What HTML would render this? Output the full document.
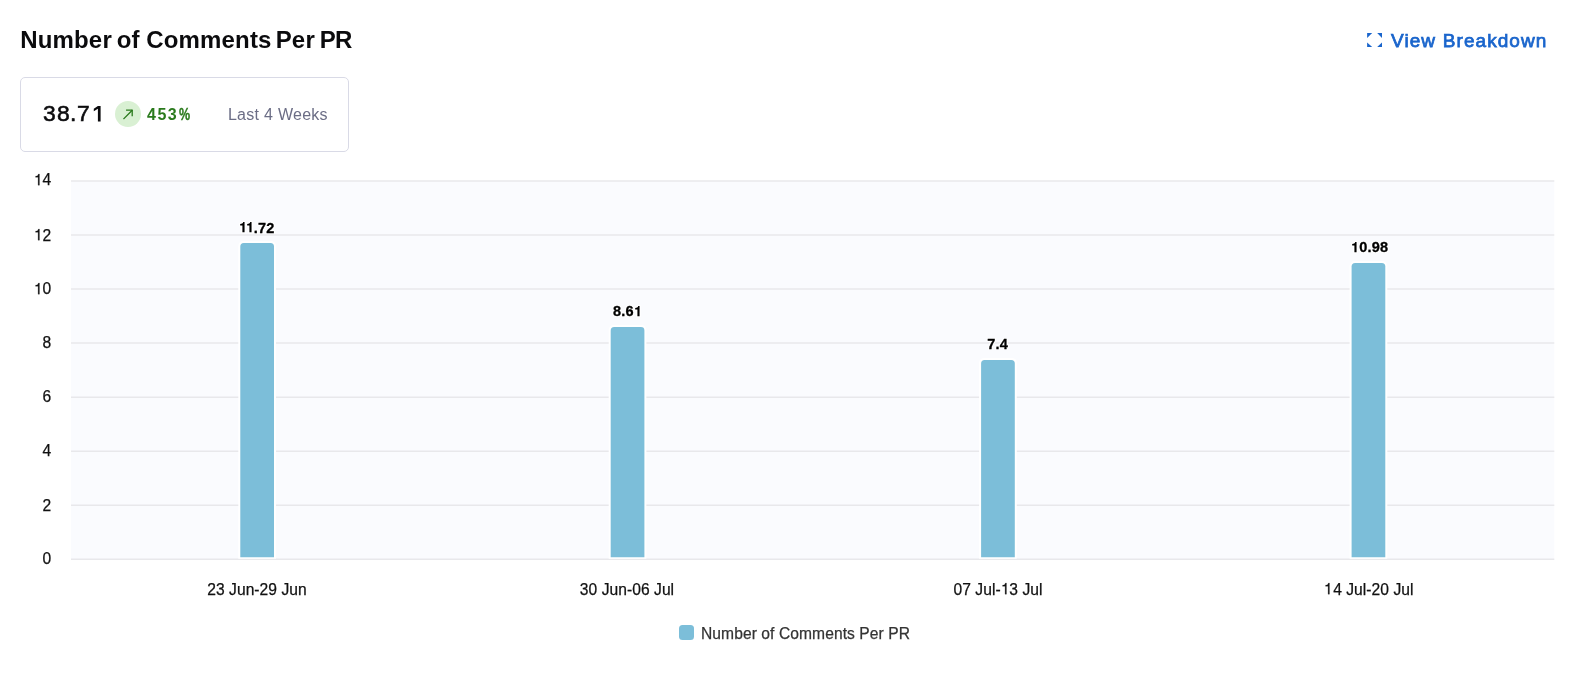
<!DOCTYPE html>
<html>
<head>
<meta charset="utf-8">
<title>Number of Comments Per PR</title>
<style>
  html, body { margin: 0; padding: 0; }
  body {
    width: 1587px; height: 684px; position: relative; overflow: hidden;
    background: #ffffff; transform: translateZ(0);
    font-family: "Liberation Sans", sans-serif;
    color: #0b0b0d;
  }
  .abs { position: absolute; white-space: nowrap; line-height: 1; }
  #title { left: 20.2px; top: 27.6px; font-size: 24px; font-weight: 700; color: #0b0b0d; letter-spacing: 0.17px; }
  #vb { left: 1391px; top: 30.5px; font-size: 19px; font-weight: 400; color: #1a65cc; letter-spacing: 1.05px; word-spacing: 0.5px; -webkit-text-stroke: 0.75px #1a65cc; }
  #vbicon { left: 1367px; top: 33px; width: 15px; height: 14px; }
  #card { left: 20px; top: 77px; width: 327px; height: 73px; border: 1px solid #d9dae6; border-radius: 5px; background: #fff; }
  #big { left: -0.3px; top: 102.7px; font-size: 22px; font-weight: 400; letter-spacing: 0; color: #0b0b0d; -webkit-text-stroke: 0.55px #0b0b0d; }
  #big .g { transform: scaleX(1.04); transform-origin: 0 0; }
  #circ { left: 115.3px; top: 101px; width: 26px; height: 26px; border-radius: 50%; background: #d9f0d3; }
  #pct { left: 147px; top: 107px; font-size: 16px; font-weight: 700; color: #2a7a1c; letter-spacing: 0; }
  #last { left: 228px; top: 107px; font-size: 16px; color: #6b6d85; letter-spacing: 0.2px; word-spacing: 0.3px; }
  .ylab { font-size: 15.6px; color: #111; -webkit-text-stroke: 0.25px #111; text-align: right; width: 40px; left: 11.3px; }
  .xlab { font-size: 15.6px; color: #111; -webkit-text-stroke: 0.25px #111; letter-spacing: 0.05px; text-align: center; width: 200px; }
  .dl { font-size: 14.5px; letter-spacing: 0.2px; font-weight: 700; color: #000; text-align: center; width: 100px;
        -webkit-text-stroke: 0.3px #000; text-shadow: 1px 0 0 #fff, -1px 0 0 #fff, 0 1px 0 #fff, 0 -1px 0 #fff, 1px 1px 0 #fff, -1px -1px 0 #fff, 1px -1px 0 #fff, -1px 1px 0 #fff; }
  .o1 { display: inline-block; width: 0.556em; height: 0.716em; vertical-align: baseline; fill: currentColor; stroke: currentColor; stroke-width: 16; overflow: visible; }
  .ylab .o1 { position: relative; left: -0.4px; }
  .dl .o1 { stroke: #fff; stroke-width: 170; paint-order: stroke fill; stroke-linejoin: round; }
  #legtext { left: 701px; top: 625.5px; font-size: 15.6px; color: #333; -webkit-text-stroke: 0.25px #333; letter-spacing: 0.08px; }
  #legsw { left: 679px; top: 624.5px; width: 15.2px; height: 15.4px; border-radius: 3.5px; background: #7cbed9; }
  #chart { left: 0; top: 0; width: 1587px; height: 684px; }
</style>
</head>
<body>
<svg id="chart" class="abs" viewBox="0 0 1587 684">
  <rect x="71" y="181" width="1483.300" height="378.300" fill="#fafbfe"/>
  <g stroke="#e8e8eb" stroke-width="1.500">
    <line x1="71" x2="1554.300" y1="181.00" y2="181.00"/>
    <line x1="71" x2="1554.300" y1="235.04" y2="235.04"/>
    <line x1="71" x2="1554.300" y1="289.08" y2="289.08"/>
    <line x1="71" x2="1554.300" y1="343.12" y2="343.12"/>
    <line x1="71" x2="1554.300" y1="397.16" y2="397.16"/>
    <line x1="71" x2="1554.300" y1="451.20" y2="451.20"/>
    <line x1="71" x2="1554.300" y1="505.24" y2="505.24"/>
    <line x1="71" x2="1554.300" y1="559.28" y2="559.28"/>
  </g>
  <g fill="#ffffff">
    <path d="M238.30 558.80 V246.10 a5 5 0 0 1 5 -5 H271.00 a5 5 0 0 1 5 5 V558.80 Z"/>
    <path d="M608.70 558.80 V330.00 a5 5 0 0 1 5 -5 H641.40 a5 5 0 0 1 5 5 V558.80 Z"/>
    <path d="M979.10 558.80 V362.90 a5 5 0 0 1 5 -5 H1011.80 a5 5 0 0 1 5 5 V558.80 Z"/>
    <path d="M1349.60 558.80 V266.00 a5 5 0 0 1 5 -5 H1382.30 a5 5 0 0 1 5 5 V558.80 Z"/>
  </g>
  <g fill="#7cbed9">
    <path d="M240.30 557.20 V246.60 a3.5 3.5 0 0 1 3.5 -3.5 H270.50 a3.5 3.5 0 0 1 3.5 3.5 V557.20 Z"/>
    <path d="M610.70 557.20 V330.50 a3.5 3.5 0 0 1 3.5 -3.5 H640.90 a3.5 3.5 0 0 1 3.5 3.5 V557.20 Z"/>
    <path d="M981.10 557.20 V363.40 a3.5 3.5 0 0 1 3.5 -3.5 H1011.30 a3.5 3.5 0 0 1 3.5 3.5 V557.20 Z"/>
    <path d="M1351.60 557.20 V266.50 a3.5 3.5 0 0 1 3.5 -3.5 H1381.80 a3.5 3.5 0 0 1 3.5 3.5 V557.20 Z"/>
  </g>
</svg>

<div id="title" class="abs"><span class="abs" style="left:0">Number</span><span class="abs" style="left:96.500px">of</span><span class="abs" style="left:126px">Comments</span><span class="abs" style="left:255.500px">Per</span><span class="abs" style="left:299.500px;letter-spacing:-0.8px">PR</span></div>

<svg id="vbicon" class="abs" viewBox="0 0 15 14">
  <g fill="#1a65cc">
    <path d="M0.100 0.100 H5.200 L0.100 5 Z"/>
    <path d="M15.100 0.100 H10.200 L15.100 5 Z"/>
    <path d="M0.100 13.900 H5.200 L0.100 9.400 Z"/>
    <path d="M15.100 13.900 H10.200 L15.100 9.400 Z"/>
  </g>
</svg>
<div id="vb" class="abs">View Breakdown</div>

<div id="card" class="abs"></div>
<div id="big" class="abs"><span class="abs g" style="left:43px">3</span><span class="abs g" style="left:57px">8</span><span class="abs g" style="left:70px">.</span><span class="abs g" style="left:77px">7</span></div>
<svg id="one" class="abs" style="left:90px;top:100px;width:16px;height:26px" viewBox="90 100 16 26"><path fill="#0b0b0d" d="M97.900 105.900 H100.600 V121.400 H97.900 V108.700 L93.800 111.300 V108.700 Z"/></svg>
<div id="circ" class="abs"></div>
<svg id="arrow" class="abs" style="left:122px;top:108px;width:12px;height:12px" viewBox="0 0 12 12">
  <g fill="none" stroke="#2a7a1c" stroke-width="1.300" stroke-linecap="square" stroke-linejoin="round">
    <path d="M1.900 10.600 L10 2.400"/>
    <path d="M4.700 2.200 H10.200 V7.600"/>
  </g>
</svg>
<div id="pct" class="abs"><span style="letter-spacing:1.5px">453</span><span id="pc" class="abs" style="left:31.5px;top:0;transform:scaleX(0.78);transform-origin:0 0;letter-spacing:0;-webkit-text-stroke:0.35px #2a7a1c">%</span></div>
<div id="last" class="abs">Last 4 Weeks</div>

<div id="y14" class="abs ylab" style="top:172.300px"><svg class="o1" viewBox="0 0 556 716"><path transform="translate(0,716) scale(1,-1)" d="M264 0 V505 H101 V568 C200 572 262 600 284 709 H348 V0 Z"/></svg>4</div>
<div id="y12" class="abs ylab" style="top:227.600px"><svg class="o1" viewBox="0 0 556 716"><path transform="translate(0,716) scale(1,-1)" d="M264 0 V505 H101 V568 C200 572 262 600 284 709 H348 V0 Z"/></svg>2</div>
<div id="y10" class="abs ylab" style="top:281.300px"><svg class="o1" viewBox="0 0 556 716"><path transform="translate(0,716) scale(1,-1)" d="M264 0 V505 H101 V568 C200 572 262 600 284 709 H348 V0 Z"/></svg>0</div>
<div id="y8" class="abs ylab" style="top:335.400px">8</div>
<div id="y6" class="abs ylab" style="top:389.400px">6</div>
<div id="y4" class="abs ylab" style="top:443.400px">4</div>
<div id="y2" class="abs ylab" style="top:497.500px">2</div>
<div id="y0" class="abs ylab" style="top:551.200px">0</div>

<div id="d1" class="abs dl" style="left:206.500px;top:220.500px"><svg class="o1" style="margin-right:-0.065em" viewBox="0 0 556 716"><path transform="translate(0,716) scale(1,-1)" d="M236 0 V477 H81 V573 C190 575 270 610 290 709 H384 V0 Z"/></svg><svg class="o1" viewBox="0 0 556 716"><path transform="translate(0,716) scale(1,-1)" d="M236 0 V477 H81 V573 C190 575 270 610 290 709 H384 V0 Z"/></svg>.72</div>
<div id="d2" class="abs dl" style="left:577.300px;top:304.200px">8.6<svg class="o1" viewBox="0 0 556 716"><path transform="translate(0,716) scale(1,-1)" d="M236 0 V477 H81 V573 C190 575 270 610 290 709 H384 V0 Z"/></svg></div>
<div id="d3" class="abs dl" style="left:947.600px;top:336.700px">7.4</div>
<div id="d4" class="abs dl" style="left:1319.800px;top:240px"><svg class="o1" viewBox="0 0 556 716"><path transform="translate(0,716) scale(1,-1)" d="M236 0 V477 H81 V573 C190 575 270 610 290 709 H384 V0 Z"/></svg>0.98</div>

<div id="x1" class="abs xlab" style="left:157px;top:581.6px">23 Jun-29 Jun</div>
<div id="x2" class="abs xlab" style="left:527px;top:581.6px">30 Jun-06 Jul</div>
<div id="x3" class="abs xlab" style="left:898px;top:581.6px">07 Jul-<svg class="o1" viewBox="0 0 556 716"><path transform="translate(0,716) scale(1,-1)" d="M264 0 V505 H101 V568 C200 572 262 600 284 709 H348 V0 Z"/></svg>3 Jul</div>
<div id="x4" class="abs xlab" style="left:1269px;top:581.6px"><svg class="o1" viewBox="0 0 556 716"><path transform="translate(0,716) scale(1,-1)" d="M264 0 V505 H101 V568 C200 572 262 600 284 709 H348 V0 Z"/></svg>4 Jul-20 Jul</div>

<div id="legsw" class="abs"></div>
<div id="legtext" class="abs">Number of Comments Per PR</div>
</body>
</html>
